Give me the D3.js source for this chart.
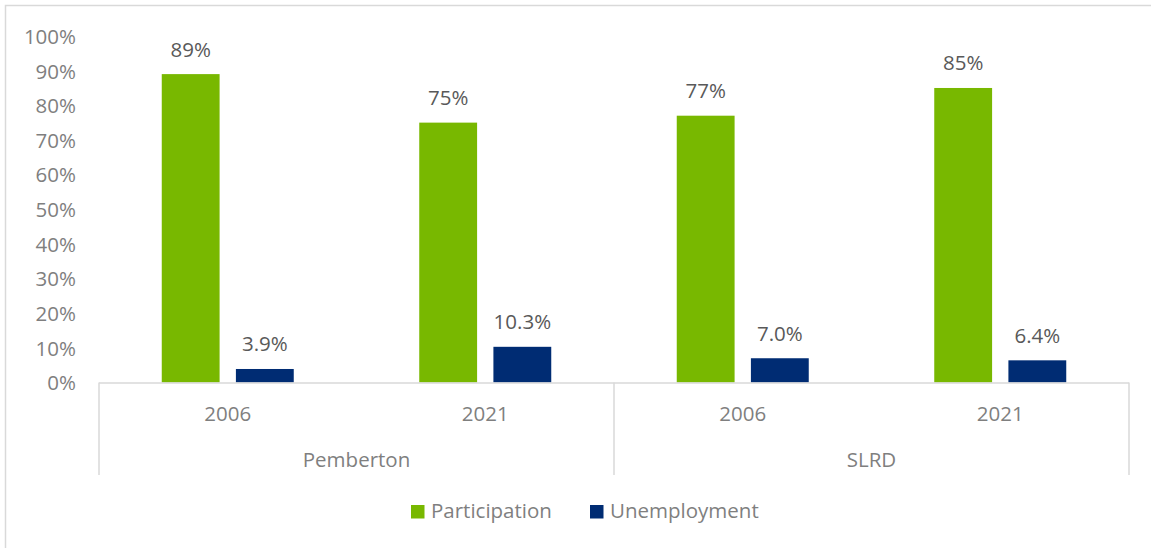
<!DOCTYPE html>
<html>
<head>
<meta charset="utf-8">
<script src="https://cdn.jsdelivr.net/npm/d3@7"></script>
<style>
  html, body { margin: 0; padding: 0; background: #fff; }
  svg { display: block; }
  text { font-family: "Open Sans", "Noto Sans", sans-serif; }
</style>
</head>
<body>
<svg id="chart" width="1151" height="548"></svg>
<script>
const regions = ["Pemberton", "SLRD"];
const years = ["2006", "2021"];
const categories = [
  {region: "Pemberton", year: "2006"},
  {region: "Pemberton", year: "2021"},
  {region: "SLRD", year: "2006"},
  {region: "SLRD", year: "2021"}
];
const seriesNames = ["Participation", "Unemployment"];
const participation = [89, 75, 77, 85];
const unemployment = [3.9, 10.3, 7.0, 6.4];
const participationLabels = ["89%", "75%", "77%", "85%"];
const unemploymentLabels = ["3.9%", "10.3%", "7.0%", "6.4%"];
const yTicks = [0, 10, 20, 30, 40, 50, 60, 70, 80, 90, 100];
const colors = {Participation: "#78B800", Unemployment: "#002C73"};

const svg = d3.select("#chart");
const W = 1151, H = 548;
const fontSize = "20.5px";

// outer chart border (light gray)
svg.append("rect").attr("x", 5.5).attr("y", 5.5).attr("width", W + 10).attr("height", H + 10)
  .attr("fill", "none").attr("stroke", "#D9D9D9").attr("stroke-width", 1.5);

const plotLeft = 99, plotRight = 1129, plotTop = 36, plotBottom = 382.5;
const y = d3.scaleLinear().domain([0, 100]).range([plotBottom, plotTop]);
const catKeys = categories.map((c, i) => i);
const x0 = d3.scaleBand().domain(catKeys).range([plotLeft, plotRight]).paddingInner(0).paddingOuter(0);
const groupW = 132;
const x1 = d3.scaleBand().domain(seriesNames).range([0, groupW]).paddingInner(0.22).paddingOuter(0);

// y axis labels
const yAxis = d3.axisLeft(y).tickValues(yTicks).tickFormat(d => d + "%").tickSize(0).tickPadding(0);
const yg = svg.append("g").attr("transform", `translate(76,0)`).call(yAxis);
yg.select(".domain").remove();
yg.selectAll("text").attr("fill", "#7F7F7F").style("font-size", fontSize)
  .style("font-family", '"Open Sans", sans-serif').attr("dy", "0.36em");

// bars
const data = [];
categories.forEach((c, i) => {
  data.push({i, s: "Participation", v: participation[i], label: participationLabels[i]});
  data.push({i, s: "Unemployment", v: unemployment[i], label: unemploymentLabels[i]});
});
const gx = i => x0(i) + (x0.bandwidth() - groupW) / 2;

svg.append("g").selectAll("rect").data(data).join("rect")
  .attr("x", d => gx(d.i) + x1(d.s))
  .attr("width", x1.bandwidth())
  .attr("y", d => y(d.v))
  .attr("height", d => y(0) - y(d.v))
  .attr("fill", d => colors[d.s]);

// value labels
svg.append("g").selectAll("text").data(data).join("text")
  .attr("x", d => gx(d.i) + x1(d.s) + x1.bandwidth() / 2)
  .attr("y", d => y(d.v) - 17.5)
  .attr("text-anchor", "middle")
  .attr("fill", "#595959")
  .style("font-size", fontSize)
  .text(d => d.label);

// x axis line
const axisColor = "#D9D9D9";
svg.append("line").attr("x1", plotLeft).attr("x2", plotRight).attr("y1", plotBottom + 0.5).attr("y2", plotBottom + 0.5)
  .attr("stroke", axisColor).attr("stroke-width", 1.5);

// group dividers
const regionEdges = [plotLeft, x0(2), plotRight];
svg.append("g").selectAll("line").data(regionEdges).join("line")
  .attr("x1", d => d).attr("x2", d => d)
  .attr("y1", plotBottom).attr("y2", 475)
  .attr("stroke", axisColor).attr("stroke-width", 1.5);

// year labels
svg.append("g").selectAll("text").data(categories).join("text")
  .attr("x", (d, i) => x0(i) + x0.bandwidth() / 2)
  .attr("y", 421)
  .attr("text-anchor", "middle")
  .attr("fill", "#7F7F7F")
  .style("font-size", fontSize)
  .text(d => d.year);

// region labels
svg.append("g").selectAll("text").data(regions).join("text")
  .attr("x", (d, i) => (regionEdges[i] + regionEdges[i + 1]) / 2)
  .attr("y", 467)
  .attr("text-anchor", "middle")
  .attr("fill", "#7F7F7F")
  .style("font-size", fontSize)
  .text(d => d);

// legend
const legendX = [411, 590];
const lg = svg.append("g").selectAll("g").data(seriesNames).join("g")
  .attr("transform", (d, i) => `translate(${legendX[i]},505)`);
lg.append("rect").attr("width", 13.5).attr("height", 13.5).attr("fill", d => colors[d]);
lg.append("text").attr("x", 20).attr("y", 13)
  .attr("fill", "#7F7F7F").style("font-size", fontSize).text(d => d);
</script>
</body>
</html>
